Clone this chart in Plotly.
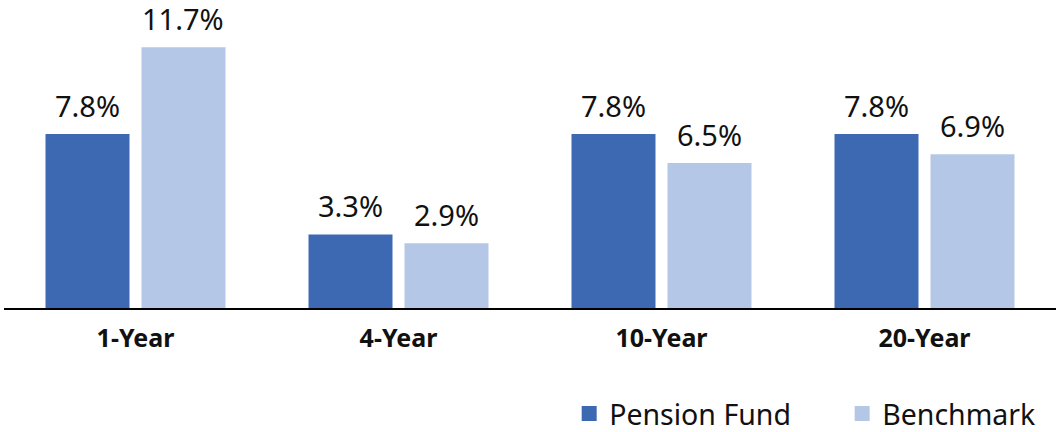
import plotly.graph_objects as go

# 数据
periods = ["1-Year", "4-Year", "10-Year", "20-Year"]
pension_fund = [7.8, 3.3, 7.8, 7.8]
benchmark = [11.7, 2.9, 6.5, 6.9]

series_names = ["Pension Fund", "Benchmark"]
series_colors = ["#3D69B3", "#B4C7E7"]

FONT = "Noto Sans, Open Sans, sans-serif"
W, H = 1056, 432
ML, MR, MT, MB = 4, 0, 7, 124
BARGAP, BARGROUPGAP = 0.27, 0.125

fig = go.Figure()

for name, vals, color in zip(series_names, [pension_fund, benchmark], series_colors):
    fig.add_trace(go.Bar(
        x=periods,
        y=vals,
        name=name,
        marker=dict(color=color, line=dict(width=0)),
        showlegend=False,
        hoverinfo="x+y",
    ))
    # 图例用方块标记
    fig.add_trace(go.Scatter(
        x=[None], y=[None],
        mode="markers",
        name=name,
        marker=dict(symbol="square", size=15, color=color),
        showlegend=True,
    ))

# 数值标签（按分组偏移放在柱子上方）
slot = (W - ML - MR) / len(periods) * (1 - BARGAP) / 2
for k, vals in enumerate([pension_fund, benchmark]):
    shift = (k - 0.5) * slot
    for p, v in zip(periods, vals):
        fig.add_annotation(
            x=p, y=v, text=f"{v:.1f}%",
            xshift=shift, yshift=8, borderpad=0,
            yanchor="bottom", showarrow=False,
            font=dict(size=29, family=FONT, color="#111111"),
        )

fig.update_layout(
    width=W,
    height=H,
    barmode="group",
    bargap=BARGAP,
    bargroupgap=BARGROUPGAP,
    plot_bgcolor="white",
    paper_bgcolor="white",
    margin=dict(l=ML, r=MR, t=MT, b=MB),
    font=dict(family=FONT, color="#111111"),
    xaxis=dict(
        showline=True,
        linecolor="black",
        linewidth=2,
        showgrid=False,
        ticks="",
        tickfont=dict(size=25, family=FONT, weight="bold", color="#111111"),
        ticklabelstandoff=7,
    ),
    yaxis=dict(
        range=[0, 13.5],
        visible=False,
        showgrid=False,
        zeroline=False,
    ),
    legend=dict(
        orientation="h",
        xref="container",
        yref="container",
        x=0.539,
        xanchor="left",
        y=1 - 414 / H,
        yanchor="middle",
        font=dict(size=28.5, family=FONT, color="#111111"),
        entrywidth=228,
        itemsizing="trace",
        tracegroupgap=0,
    ),
)

fig.write_html(
    "out.html",
    config={"displayModeBar": False},
    post_script="document.body.style.margin='0';",
)
